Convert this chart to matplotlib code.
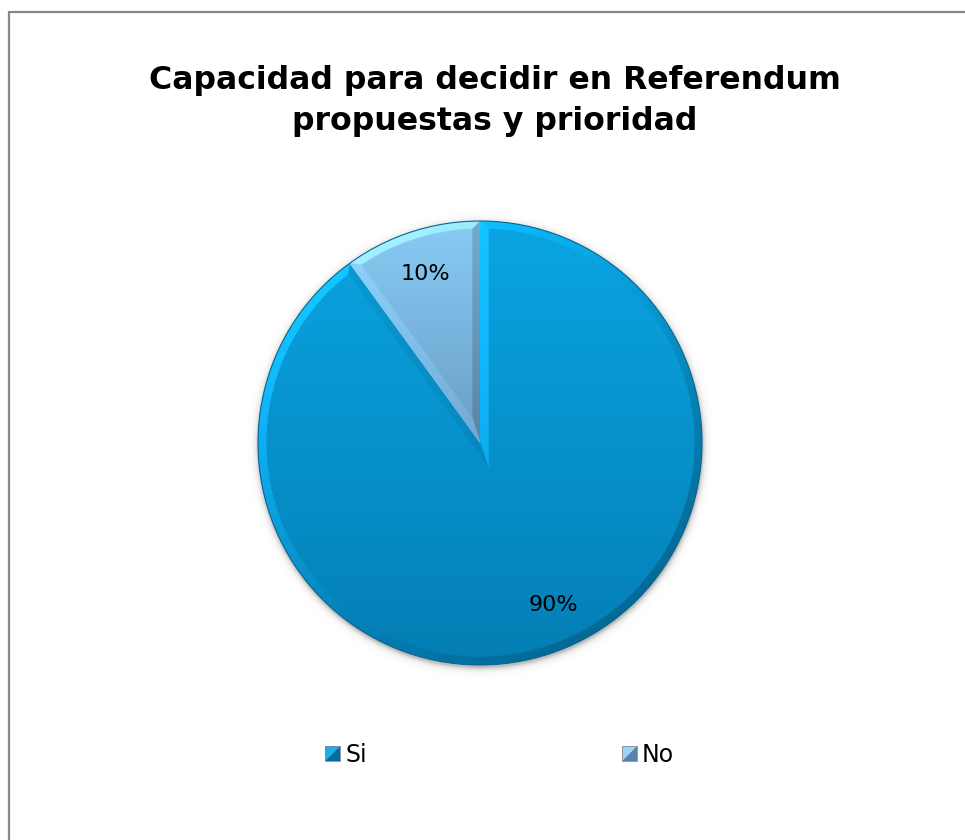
import numpy as np
import matplotlib
matplotlib.use("Agg")
import matplotlib.pyplot as plt
from matplotlib.patches import Rectangle, Polygon, Circle
from matplotlib.legend_handler import HandlerBase
from matplotlib.colors import to_rgb

plt.rcParams["font.family"] = ["DejaVu Sans"]

# ---- data -------------------------------------------------------------
title = "Capacidad para decidir en Referendum\npropuestas y prioridad"
categories = ["Si", "No"]
shares = [90, 10]

# vertical face gradient of every slice (top colour, bottom colour)
face_top = ["#0AA5E3", "#88CCF5"]
face_bottom = ["#047EB4", "#4C6E95"]
# two tones of the legend keys (upper-left, lower-right)
key_light = ["#1EAEE6", "#9CD4F6"]
key_dark = ["#056C9E", "#5684AC"]

# ---- figure -----------------------------------------------------------
W, H = 965, 840
fig = plt.figure(figsize=(W / 100, H / 100), dpi=100)
fig.patch.set_facecolor("white")

# chart-area frame (open to the right and bottom)
fig.add_artist(Rectangle((9 / W, -0.2), 1.5, 1.2 - 12 / H, transform=fig.transFigure,
                         fill=False, ec="#888888", lw=1.6))

fig.text(494.5 / W, 1 - 101 / H, title, ha="center", va="center", fontsize=22.7,
         fontweight="bold", linespacing=1.42, color="black")

cx, cy, R = 480, 443, 222
pad = 1.1
ax = fig.add_axes([(cx - pad * R) / W, (H - cy - pad * R) / H,
                   2 * pad * R / W, 2 * pad * R / H])

wedges, _, autotexts = ax.pie(
    shares, colors=face_top, startangle=90, counterclock=False,
    autopct=lambda p: f"{p:.0f}%", pctdistance=0.8, radius=1,
    wedgeprops=dict(linewidth=0, edgecolor="none"),
    textprops=dict(fontsize=16, color="black"))
ax.set_xlim(-pad, pad)
ax.set_ylim(-pad, pad)
ax.set_aspect("equal")
ax.set_axis_off()

# the large slice's label sits a little further right
autotexts[0].set_position((0.33, -0.73))
for t in autotexts:
    t.set_zorder(5)

# ---- shading: face gradient plus a bevelled rim lit from the upper left
N = 900
g = np.linspace(-pad, pad, N)
X, Y = np.meshgrid(g, g[::-1])
rho = np.hypot(X, Y)
phi = np.arctan2(Y, X)
light = np.array([-0.8, 0.6])
bevel = 0.036


def shaded_slice(w, top, bottom):
    t1, t2 = np.deg2rad(w.theta1), np.deg2rad(w.theta2)
    r = w.r
    ctop, cbot = np.array(to_rgb(top)), np.array(to_rgb(bottom))
    f = ((Y + r) / (2 * r)).clip(0, 1)[..., None]
    face = cbot + (ctop - cbot) * f
    # signed distances to the two straight edges (positive inside the slice)
    d1 = -X * np.sin(t1) + Y * np.cos(t1)
    d2 = X * np.sin(t2) - Y * np.cos(t2)
    if t2 - t1 > np.pi:
        d_edge = np.maximum(d1, d2)
        first = d1 >= d2
    else:
        d_edge = np.minimum(d1, d2)
        first = d1 <= d2
    d_arc = r - rho
    nx = np.where(first, np.sin(t1), -np.sin(t2))
    ny = np.where(first, -np.cos(t1), np.cos(t2))
    on_arc = d_arc < d_edge
    nx = np.where(on_arc, np.cos(phi), nx)
    ny = np.where(on_arc, np.sin(phi), ny)
    d = np.minimum(d_arc, d_edge)
    s = (nx * light[0] + ny * light[1])[..., None]
    bright = (face * (1 + 0.2 * s) + 0.03 * s).clip(0, 1)
    dark = face * (1 + 0.2 * s)
    rim = np.where(s > 0, bright, dark)
    return np.where((d < bevel)[..., None], rim, face)


for w, top, bottom in zip(wedges, face_top, face_bottom):
    im = ax.imshow(shaded_slice(w, top, bottom), extent=(-pad, pad, -pad, pad),
                   zorder=1.5, interpolation="bilinear")
    im.set_clip_path(w)

# soft drop shadow under the pie
sh = np.hypot(X, Y + 0.012)
alpha = np.where(sh > 1, 0.40 * np.exp(-(sh - 1) / 0.012), 0.40)
shadow = np.zeros((N, N, 4))
shadow[..., :3] = 0.35
shadow[..., 3] = alpha
ax.imshow(shadow, extent=(-pad, pad, -pad, pad), zorder=0.5, interpolation="bilinear")

ax.add_patch(Circle(wedges[0].center, wedges[0].r, fill=False, ec="#0b6690",
                    lw=0.8, zorder=2))


# ---- legend with two-tone square keys
class DiagonalSquare(HandlerBase):
    def __init__(self, light_c, dark_c):
        super().__init__()
        self.light_c, self.dark_c = light_c, dark_c

    def create_artists(self, legend, orig_handle, xdescent, ydescent, width,
                       height, fontsize, trans):
        side = min(width, height)
        x0 = -xdescent + (width - side) / 2
        y0 = -ydescent + (height - side) / 2
        up = Polygon([[x0, y0], [x0, y0 + side], [x0 + side, y0 + side]],
                     closed=True, fc=self.light_c, ec="none", transform=trans)
        lo = Polygon([[x0, y0], [x0 + side, y0], [x0 + side, y0 + side]],
                     closed=True, fc=self.dark_c, ec="none", transform=trans)
        box = Rectangle((x0, y0), side, side, fill=False, ec="#7f8c96", lw=0.6,
                        transform=trans)
        return [up, lo, box]


handler_map = {w: DiagonalSquare(lc, dc) for w, lc, dc in zip(wedges, key_light, key_dark)}
fig.legend(wedges, categories, loc="center left", bbox_to_anchor=(325 / W, 1 - 755 / H),
           ncol=2, frameon=False, fontsize=17, handlelength=0.65, handleheight=0.65,
           handletextpad=0.2, columnspacing=10.8, borderpad=0, borderaxespad=0,
           handler_map=handler_map)

fig.savefig("out.png", dpi=100, facecolor="white")
